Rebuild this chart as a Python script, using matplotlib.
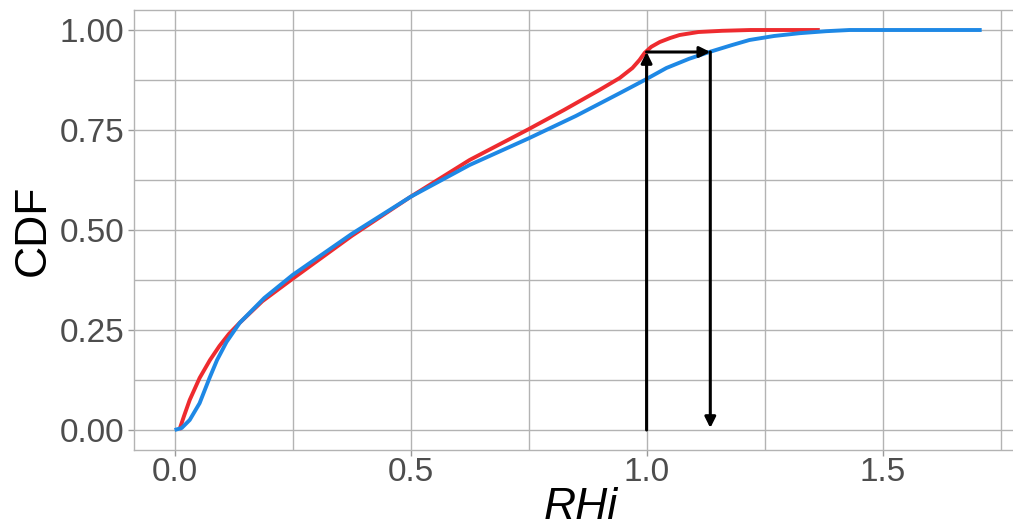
import numpy as np
import matplotlib.pyplot as plt
from matplotlib.ticker import MultipleLocator

# CDF of RHi: red and blue curves
red_x = [0.01, 0.02, 0.032, 0.053, 0.075, 0.095, 0.115, 0.138, 0.186, 0.25,
         0.375, 0.5, 0.625, 0.75, 0.825, 0.9, 0.943, 0.97, 0.985, 0.996,
         1.01, 1.028, 1.05, 1.07, 1.11, 1.16, 1.22, 1.367]
red_y = [0.0, 0.035, 0.075, 0.13, 0.175, 0.21, 0.24, 0.268, 0.322, 0.378,
         0.485, 0.583, 0.675, 0.752, 0.80, 0.85, 0.88, 0.905, 0.925, 0.943,
         0.958, 0.97, 0.98, 0.9875, 0.995, 0.998, 1.0, 1.0]

blue_x = [0.0, 0.015, 0.032, 0.053, 0.074, 0.09, 0.11, 0.138, 0.19, 0.25,
          0.375, 0.5, 0.625, 0.75, 0.85, 0.943, 0.996, 1.042, 1.09, 1.133,
          1.18, 1.218, 1.27, 1.324, 1.38, 1.43, 1.71]
blue_y = [0.0, 0.005, 0.025, 0.067, 0.13, 0.175, 0.22, 0.268, 0.33, 0.3875,
          0.49, 0.583, 0.6625, 0.729, 0.785, 0.842, 0.875, 0.905, 0.928, 0.945,
          0.962, 0.975, 0.985, 0.992, 0.997, 1.0, 1.0]

# arrow construction: from RHi = 1 up to the red CDF, across to blue, down
rhi_start = 1.0
rhi_end = 1.135
cdf_level = 0.945

y_ticks = [0.0, 0.25, 0.5, 0.75, 1.0]
y_labels = ['0.00', '0.25', '0.50', '0.75', '1.00']
x_ticks = [0.0, 0.5, 1.0, 1.5]
x_labels = ['0.0', '0.5', '1.0', '1.5']

plt.rcParams['font.family'] = ['Liberation Sans', 'DejaVu Sans']

W, H = 1013, 529
fig = plt.figure(figsize=(W / 100, H / 100), dpi=100)
# panel runs past the right edge of the picture, as in the reference
ax = fig.add_axes([134 / W, 1 - 450 / H, (1027 - 134) / W, 440 / H])

grid_col = '#b3b3b3'
ax.plot(red_x, red_y, color='#EE2B2F', lw=2.8, solid_capstyle='butt', zorder=3)
ax.plot(blue_x, blue_y, color='#1E88E5', lw=2.8, solid_capstyle='butt', zorder=3)

arrow = dict(arrowstyle='-|>', lw=2.2, color='black', mutation_scale=16,
             shrinkA=0, shrinkB=0)
ax.annotate('', xy=(rhi_start, cdf_level), xytext=(rhi_start, 0.0),
            arrowprops=arrow, zorder=4)
ax.annotate('', xy=(rhi_end, cdf_level), xytext=(rhi_start, cdf_level),
            arrowprops=arrow, zorder=4)
ax.annotate('', xy=(rhi_end, 0.005), xytext=(rhi_end, cdf_level),
            arrowprops=arrow, zorder=4)

ax.set_xlim(-0.086, 1.806)
ax.set_ylim(-0.05, 1.05)
ax.set_xticks(x_ticks)
ax.set_xticklabels(x_labels)
ax.set_yticks(y_ticks)
ax.set_yticklabels(y_labels)
ax.xaxis.set_minor_locator(MultipleLocator(0.25))
ax.yaxis.set_minor_locator(MultipleLocator(0.125))
ax.grid(True, which='both', color=grid_col, lw=1.0, zorder=0)
ax.set_axisbelow(True)

for side in ['left', 'top', 'bottom']:
    ax.spines[side].set_color(grid_col)
    ax.spines[side].set_linewidth(1.0)
ax.spines['right'].set_visible(False)

ax.tick_params(which='major', length=4, width=1, color='#999999',
               labelsize=24, labelcolor='#4D4D4D', pad=3)
ax.tick_params(axis='x', which='major', pad=1)
ax.tick_params(which='minor', length=0)

ax.set_ylabel('CDF', fontsize=32, labelpad=4)
ax.set_xlabel('RHi', fontsize=32, style='italic', labelpad=-1)

fig.savefig('out.png', dpi=100)
